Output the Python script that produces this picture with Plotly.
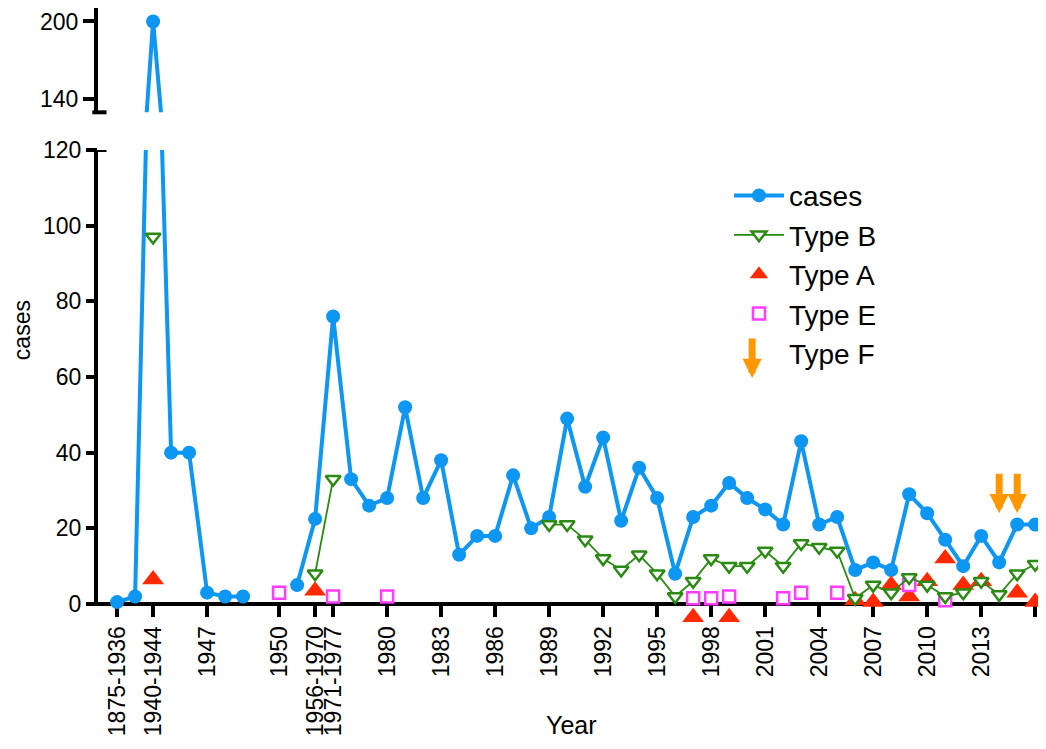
import plotly.graph_objects as go

FONT = "Liberation Sans, Arial, sans-serif"
BLUE = "#0d96f2"
GREEN = "#2a8a12"
RED = "#ff2a00"
MAGENTA = "#ff3cff"
ORANGE = "#ff9800"

# ---------------- data ----------------
# x axis: ordinal position of each period (early periods are grouped, from 1978 on one slot per year)
tick_pos = [0, 2, 5, 9, 11, 12, 15, 18, 21, 24, 27, 30, 33, 36, 39, 42, 45, 48, 51]
tick_text = ["1875-1936", "1940-1944", "1947", "1950", "1956-1970", "1971-1977",
             "1980", "1983", "1986", "1989", "1992", "1995", "1998", "2001",
             "2004", "2007", "2010", "2013", "2016"]
YEAR_SLOT_OFFSET = 1965  # yearly slots: position = year - 1965 (1980 -> 15)

# total cases
early_cases_pos = [0, 1, 2, 3, 4, 5, 6, 7, 10, 11, 12]
early_cases = [0.5, 2, 200, 40, 40, 3, 2, 2, 5, 22.5, 76]
cases_years = list(range(1978, 2017))
yearly_cases = [33, 26, 28, 52, 28, 38, 13, 18, 18, 34,
                20, 23, 49, 31, 44, 22, 36, 28, 8, 23,
                26, 32, 28, 25, 21, 43, 21, 23, 9, 11,
                9, 29, 24, 17, 10, 18, 11, 21, 21]

# Type B
early_b_pos = [2, 11, 12]
early_b = [97, 8, 33]
b_years = list(range(1989, 2017))
yearly_b = [21, 21, 17, 12, 9, 13, 8, 2, 6, 12,
            10, 10, 14, 10, 16, 15, 14, 1.5, 5, 3,
            7, 5, 2, 3, 6, 2.5, 8, 10.5]

# Type A
early_a_pos = [2, 11]
early_a = [6.5, 3.5]
a_years = [1997, 1999, 2006, 2007, 2008, 2009, 2010, 2011, 2012, 2013, 2015, 2016]
yearly_a = [-3.5, -3.5, 1, 0.5, 5, 2, 6, 12, 5, 6, 3, 0.5]

# Type E
early_e_pos = [9, 12]
early_e = [3, 2]
e_years = [1980, 1997, 1998, 1999, 2002, 2003, 2005, 2009, 2011]
yearly_e = [2, 1.5, 1.5, 2, 1.5, 3, 3, 5, 1]

# Type F (marked by arrows)
f_years = [2014, 2015]
f_level = [24, 24]


def positions(early_pos, years):
    return list(early_pos) + [y - YEAR_SLOT_OFFSET for y in years]


def with_gaps(xs, ys):
    ox, oy = [], []
    for i, (x, y) in enumerate(zip(xs, ys)):
        if i and x - xs[i - 1] > 1:
            ox.append(None)
            oy.append(None)
        ox.append(x)
        oy.append(y)
    return ox, oy


cx, cy = with_gaps(positions(early_cases_pos, cases_years), early_cases + yearly_cases)
bx, by = with_gaps(positions(early_b_pos, b_years), early_b + yearly_b)
ax_, ay_ = positions(early_a_pos, a_years), early_a + yearly_a
ex, ey = positions(early_e_pos, e_years), early_e + yearly_e
fx = [y - YEAR_SLOT_OFFSET for y in f_years]

fig = go.Figure()

fig.add_trace(go.Scatter(x=cx, y=cy, mode="lines+markers", name="cases",
                         line=dict(color=BLUE, width=4),
                         marker=dict(size=14, color=BLUE),
                         cliponaxis=False, legendrank=1, yaxis="y"))
fig.add_trace(go.Scatter(x=cx, y=cy, mode="lines+markers", showlegend=False,
                         line=dict(color=BLUE, width=4),
                         marker=dict(size=14, color=BLUE), yaxis="y2"))
fig.add_trace(go.Scatter(x=ax_, y=ay_, mode="markers", name="Type A",
                         marker=dict(symbol="triangle-up", size=19, color=RED),
                         cliponaxis=False, legendrank=3))
fig.add_trace(go.Scatter(x=ex, y=ey, mode="markers", name="Type E",
                         marker=dict(symbol="square", size=12, color="white",
                                     line=dict(color=MAGENTA, width=2.5)),
                         cliponaxis=False, legendrank=4))
fig.add_trace(go.Scatter(x=bx, y=by, mode="lines+markers", name="Type B",
                         line=dict(color=GREEN, width=1.8),
                         marker=dict(symbol="triangle-down", size=13, color="white",
                                     line=dict(color=GREEN, width=2.5)),
                         cliponaxis=False, legendrank=2))
fig.add_trace(go.Scatter(x=fx, y=f_level, mode="markers", name="Type F",
                         marker=dict(size=12, color="rgba(0,0,0,0)"),
                         legendrank=5))

annotations = []
for x, lvl in zip(fx, f_level):
    annotations.append(dict(x=x, y=lvl, xref="x", yref="y", text="", showarrow=True,
                            ax=0, ay=-41, arrowcolor=ORANGE, arrowwidth=7,
                            arrowhead=2, arrowsize=0.55))

annotations.append(dict(x=0.690, y=0.3994, xref="paper", yref="paper", text="", showarrow=True,
                        ax=0, ay=-41, arrowcolor=ORANGE, arrowwidth=7,
                        arrowhead=2, arrowsize=0.55))
annotations.append(dict(x=0.4995, y=-0.164, xref="paper", yref="paper", text="Year",
                        xanchor="center", yanchor="middle", showarrow=False,
                        font=dict(size=25, color="black", family=FONT)))
annotations.append(dict(x=-0.080, y=0.4773, xref="paper", yref="paper", text="cases",
                        xanchor="center", yanchor="middle", textangle=-90, showarrow=False,
                        font=dict(size=23, color="black", family=FONT)))

axis_common = dict(linecolor="black", linewidth=4, ticks="outside",
                   ticklen=11, tickwidth=4, tickcolor="black", showgrid=False,
                   zeroline=False, layer="below traces", automargin=False,
                   tickfont=dict(size=23, color="black", family=FONT))

X_AXIS_AT_ZERO = 0.032468  # paper height of value 0 on the lower y axis

fig.update_layout(
    width=1038, height=733,
    margin=dict(l=90, r=0, t=0, b=117),
    plot_bgcolor="white", paper_bgcolor="white",
    font=dict(family=FONT, color="black"),
    xaxis=dict(range=[-1.06, 51.6], tickmode="array", tickvals=tick_pos,
               ticktext=tick_text, tickangle=-90, anchor="free",
               position=X_AXIS_AT_ZERO, showline=True, **axis_common),
    yaxis=dict(range=[-5.286, 120], domain=[0, 0.769481], tickmode="array",
               tickvals=[0, 20, 40, 60, 80, 100, 120], anchor="x",
               showline=False, **axis_common),
    yaxis2=dict(range=[129.7, 210.4], domain=[0.83068, 1.0], tickmode="array",
                tickvals=[140, 200], anchor="x", showline=True, **axis_common),
    legend=dict(x=0.6656, y=0.7359, xanchor="left", yanchor="top", itemwidth=50,
                font=dict(size=28, color="black", family=FONT),
                bgcolor="rgba(0,0,0,0)", traceorder="normal"),
    annotations=annotations,
    shapes=[
        # lower y-axis spine (stops at the x axis)
        dict(type="line", xref="paper", yref="y", x0=-0.0021, x1=-0.0021, y0=-0.5, y1=120,
             line=dict(color="black", width=4), layer="below"),
        # end caps at the axis break
        dict(type="line", xref="paper", yref="y2 domain", x0=-0.006, x1=0.009, y0=0, y1=0,
             line=dict(color="black", width=4)),
        dict(type="line", xref="paper", yref="y", x0=-0.006, x1=0.009, y0=120, y1=120,
             line=dict(color="black", width=4)),
    ],
)

fig.write_html("out.html")
